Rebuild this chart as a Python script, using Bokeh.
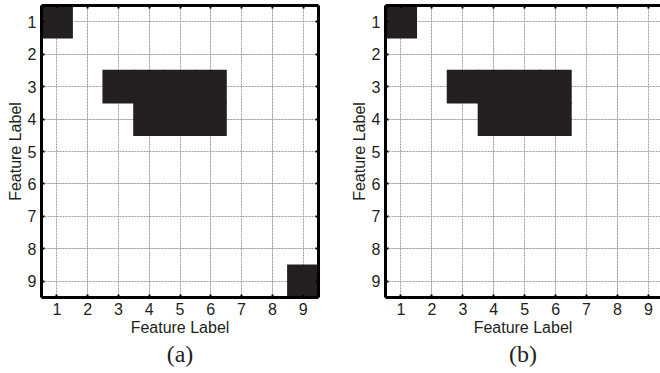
from bokeh.plotting import figure
from bokeh.models import Range1d, FixedTicker, LinearAxis, Title, Grid
from bokeh.layouts import row
from bokeh.embed import file_html
from bokeh.resources import INLINE

feature_ticks = [1, 2, 3, 4, 5, 6, 7, 8, 9]
a_rows = [1, 3, 3, 3, 3, 4, 4, 4, 9]
a_cols = [1, 3, 4, 5, 6, 4, 5, 6, 9]
b_rows = [1, 3, 3, 3, 3, 4, 4, 4]
b_cols = [1, 3, 4, 5, 6, 4, 5, 6]
panel_titles = ["(a)", "(b)"]
axis_title = "Feature Label"

SANS = "Liberation Sans"
CELL = "#231f20"


def make_axis(label):
    ax = LinearAxis(ticker=FixedTicker(ticks=feature_ticks))
    ax.axis_line_width = 3
    ax.axis_line_color = "black"
    ax.major_tick_in = 3
    ax.major_tick_out = 0
    ax.major_tick_line_width = 2
    ax.minor_tick_line_color = None
    ax.major_label_text_font = SANS
    ax.major_label_text_font_size = "16px"
    ax.major_label_text_color = "#231f20"
    ax.major_label_standoff = 5
    ax.axis_label = label
    ax.axis_label_text_font = SANS
    ax.axis_label_text_font_size = "16px"
    ax.axis_label_text_font_style = "normal"
    ax.axis_label_text_color = "#231f20"
    ax.axis_label_standoff = 1
    return ax


def make_border():
    # frame border with inward minor-tick marks only (no labels)
    ax = LinearAxis(ticker=FixedTicker(ticks=[], minor_ticks=feature_ticks))
    ax.axis_line_width = 3
    ax.axis_line_color = "black"
    ax.major_tick_line_color = None
    ax.minor_tick_in = 3
    ax.minor_tick_out = 0
    ax.minor_tick_line_width = 2
    ax.minor_tick_line_color = "black"
    ax.major_label_standoff = 0
    return ax


def make_panel(rows, cols, tag, x_end, min_left, min_right, right_border):
    p = figure(width=330, height=373,
               x_range=Range1d(0.5, x_end), y_range=Range1d(9.5, 0.5),
               output_backend="svg", toolbar_location=None,
               x_axis_location=None, y_axis_location=None,
               min_border_left=min_left, min_border_right=min_right,
               min_border_top=5, min_border_bottom=76)
    p.outline_line_color = None
    p.background_fill_color = "white"
    p.border_fill_color = "white"
    for dim in (0, 1):
        g = Grid(dimension=dim, ticker=FixedTicker(ticks=feature_ticks))
        g.grid_line_color = "#9e9e9e"
        g.grid_line_dash = "2 1"
        g.grid_line_width = 1
        p.add_layout(g)
    p.rect(x=cols, y=rows, width=1.04, height=1.04, fill_color=CELL,
           line_color=None)
    p.add_layout(make_axis(axis_title), "below")
    p.add_layout(make_axis(axis_title), "left")
    p.add_layout(make_border(), "above")
    if right_border:
        p.add_layout(make_border(), "right")
    t = Title(text=tag, align="center", text_font="Liberation Serif",
              text_font_size="24px", text_font_style="normal",
              text_color="#231f20", standoff=0)
    p.add_layout(t, "below")
    return p


pa = make_panel(a_rows, a_cols, panel_titles[0], 9.5, 41, 12, True)
pb = make_panel(b_rows, b_cols, panel_titles[1], 9.39, 55, 0, False)

layout = row(pa, pb)
open("out.html", "w").write(file_html(layout, INLINE))
